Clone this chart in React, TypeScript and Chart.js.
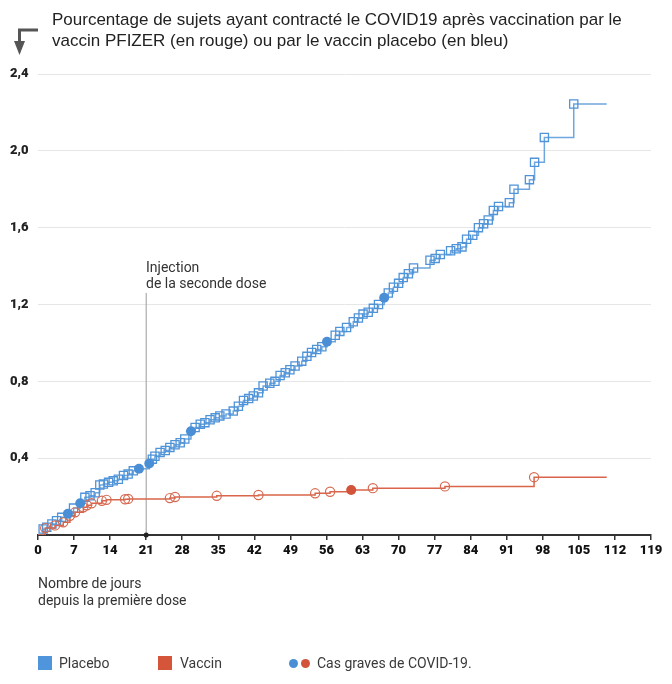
import React, { useEffect, useRef } from "react";
import { Chart, registerables } from "chart.js";

Chart.register(...registerables);

// ---- data ----
const xTicks = [0, 7, 14, 21, 28, 35, 42, 49, 56, 63, 70, 77, 84, 91, 98, 105, 112, 119];
const yTicks = [0, 0.4, 0.8, 1.2, 1.6, 2.0, 2.4];

const placeboDays = [
  1.0, 1.7, 2.7, 3.6, 4.6, 5.8, 6.9, 8.2, 9.1, 10.1, 11.1, 12.0, 12.7, 13.7, 14.6, 15.6, 16.6, 17.5,
  18.5, 19.6, 21.6, 22.2, 22.7, 23.7, 24.7, 25.6, 26.6, 27.6, 28.5, 29.7, 30.5, 31.5, 32.4, 33.4,
  34.4, 35.3, 36.5, 37.9, 38.9, 39.9, 40.9, 41.8, 42.8, 43.7, 45.0, 46.0, 47.0, 48.0, 48.9, 49.9,
  51.2, 52.2, 53.1, 54.1, 55.1, 56.1, 57.7, 58.6, 59.9, 61.2, 62.2, 63.1, 64.1, 65.1, 66.1, 67.2,
  68.0, 69.0, 70.0, 70.9, 71.9, 72.9, 76.1, 77.1, 78.1, 80.1, 81.2, 82.3, 83.2, 84.4, 85.5, 86.5,
  87.4, 88.4, 89.4, 91.5, 92.4, 95.4, 96.4, 98.3, 104.0,
];
const placeboPct = [
  0.031, 0.04, 0.057, 0.074, 0.092, 0.11, 0.14, 0.165, 0.196, 0.204, 0.22, 0.26, 0.265, 0.274, 0.282,
  0.29, 0.31, 0.317, 0.334, 0.345, 0.372, 0.395, 0.41, 0.43, 0.44, 0.456, 0.47, 0.48, 0.5, 0.54,
  0.56, 0.577, 0.585, 0.6, 0.61, 0.62, 0.63, 0.645, 0.67, 0.7, 0.71, 0.724, 0.74, 0.776, 0.79, 0.8,
  0.83, 0.845, 0.86, 0.88, 0.905, 0.93, 0.95, 0.966, 0.98, 1.006, 1.04, 1.06, 1.08, 1.11, 1.13,
  1.15, 1.16, 1.18, 1.2, 1.235, 1.26, 1.29, 1.31, 1.34, 1.36, 1.39, 1.43, 1.44, 1.46, 1.48, 1.49,
  1.5, 1.54, 1.56, 1.6, 1.62, 1.64, 1.69, 1.71, 1.73, 1.8, 1.85, 1.94, 2.07, 2.244,
];
const placeboSevereDays = [5.8, 8.2, 19.6, 21.6, 29.7, 56.1, 67.2];

const vaccinDays = [
  1.4, 3.3, 4.9, 6.2, 7.2, 8.8, 9.5, 10.4, 12.4, 13.3, 16.9, 17.5, 25.6, 26.6, 34.7, 42.8, 53.8,
  56.7, 60.8, 65.0, 79.0, 96.3,
];
const vaccinPct = [
  0.036, 0.05, 0.066, 0.1, 0.118, 0.144, 0.155, 0.165, 0.178, 0.183, 0.186, 0.188, 0.192, 0.198,
  0.204, 0.208, 0.217, 0.225, 0.234, 0.244, 0.253, 0.301,
];
const vaccinSevereDays = [60.8];

const followUpEndDay = 110.4;
const secondDoseDay = 21;
const secondDoseLineTop = 1.26;

// ---- styles ----
const BLUE_LINE = "#6ea6dd";
const BLUE_MARK = "#4f93d8";
const BLUE_FILL = "#4a8fd6";
const RED_LINE = "#d9654a";
const RED_MARK = "#d66a52";
const RED_FILL = "#d2533a";
const TEXT_FONT = "Roboto, 'Noto Sans', sans-serif";

function buildSeries(days: number[], pct: number[]) {
  const pts: { x: number; y: number }[] = [{ x: 0, y: 0 }];
  days.forEach((d, i) => pts.push({ x: d, y: pct[i] }));
  pts.push({ x: followUpEndDay, y: pct[pct.length - 1] });
  return pts;
}

function buildSevere(severe: number[], days: number[], pct: number[]) {
  return severe.map((d) => ({ x: d, y: pct[days.indexOf(d)] }));
}

function markerRadius(severe: number[], r: number) {
  return (ctx: any) => {
    const i = ctx.dataIndex;
    const n = ctx.dataset.data.length;
    if (i === 0 || i === n - 1) return 0;
    const p = ctx.dataset.data[i];
    return severe.includes(p.x) ? 0 : r;
  };
}

const secondDosePlugin = {
  id: "secondDose",
  beforeDatasetsDraw(chart: any) {
    const { ctx, scales } = chart;
    const x = scales.x.getPixelForValue(secondDoseDay);
    const top = scales.y.getPixelForValue(secondDoseLineTop);
    const bottom = scales.y.getPixelForValue(0);
    ctx.save();
    ctx.strokeStyle = "#9a9a9a";
    ctx.lineWidth = 1;
    ctx.beginPath();
    ctx.moveTo(x, top);
    ctx.lineTo(x, bottom);
    ctx.stroke();
    ctx.restore();
  },
  afterDraw(chart: any) {
    const { ctx, scales } = chart;
    const x = scales.x.getPixelForValue(secondDoseDay);
    const y = scales.y.getPixelForValue(0);
    ctx.save();
    ctx.fillStyle = "#222";
    ctx.beginPath();
    ctx.arc(x, y, 2.5, 0, Math.PI * 2);
    ctx.fill();
    ctx.restore();
  },
};

export default function App() {
  const canvasRef = useRef<HTMLCanvasElement | null>(null);

  useEffect(() => {
    const canvas = canvasRef.current;
    if (!canvas) return;
    const chart = new Chart(canvas, {
      type: "line",
      data: {
        datasets: [
          {
            label: "Cas graves placebo",
            data: buildSevere(placeboSevereDays, placeboDays, placeboPct),
            showLine: false,
            pointStyle: "circle",
            pointRadius: 5,
            pointBackgroundColor: BLUE_FILL,
            pointBorderColor: BLUE_FILL,
            pointBorderWidth: 0,
            order: 0,
          } as any,
          {
            label: "Cas graves vaccin",
            data: buildSevere(vaccinSevereDays, vaccinDays, vaccinPct),
            showLine: false,
            pointStyle: "circle",
            pointRadius: 5,
            pointBackgroundColor: RED_FILL,
            pointBorderColor: RED_FILL,
            pointBorderWidth: 0,
            order: 0,
          } as any,
          {
            label: "Vaccin",
            data: buildSeries(vaccinDays, vaccinPct),
            stepped: "before",
            borderColor: RED_LINE,
            borderWidth: 1.5,
            pointStyle: "circle",
            pointRadius: markerRadius(vaccinSevereDays, 4.6),
            pointBackgroundColor: "rgba(255,255,255,0)",
            pointBorderColor: RED_MARK,
            pointBorderWidth: 1.2,
            order: 1,
          } as any,
          {
            label: "Placebo",
            data: buildSeries(placeboDays, placeboPct),
            stepped: "before",
            borderColor: BLUE_LINE,
            borderWidth: 1.5,
            pointStyle: "rect",
            pointRadius: markerRadius(placeboSevereDays, 5.8),
            pointBackgroundColor: "rgba(255,255,255,0)",
            pointBorderColor: BLUE_MARK,
            pointBorderWidth: 1.3,
            order: 2,
          } as any,
        ],
      },
      options: {
        animation: false,
        responsive: false,
        events: [],
        layout: { padding: { left: 10, top: 74, right: 21, bottom: 119 } },
        plugins: {
          legend: { display: false },
          tooltip: { enabled: false },
          title: { display: false },
        },
        scales: {
          x: {
            type: "linear",
            min: 0,
            max: 119,
            afterBuildTicks: (scale: any) => {
              scale.ticks = xTicks.map((v) => ({ value: v }));
            },
            afterFit: (scale: any) => {
              scale.height = 30;
            },
            ticks: {
              autoSkip: false,
              maxRotation: 0,
              padding: 3,
              color: "#111",
              font: { family: TEXT_FONT, size: 13, weight: "900" },
              callback: (v: any) => String(v),
            },
            grid: {
              display: true,
              drawOnChartArea: false,
              drawTicks: true,
              tickLength: 5,
              color: "#333",
              lineWidth: 1.5,
            },
            border: { display: true, color: "#333", width: 2 },
          },
          y: {
            type: "linear",
            min: 0,
            max: 2.4,
            afterBuildTicks: (scale: any) => {
              scale.ticks = yTicks.map((v) => ({ value: v }));
            },
            afterFit: (scale: any) => {
              scale.width = 28;
            },
            ticks: {
              crossAlign: "far",
              padding: 0,
              color: "#222",
              font: { family: TEXT_FONT, size: 13, weight: "900" },
              callback: (v: any) => (Number(v) === 0 ? "" : Number(v).toFixed(1).replace(".", ",")),
            },
            grid: {
              drawTicks: false,
              lineWidth: 1,
              color: (ctx: any) => (ctx.tick && ctx.tick.value === 0 ? "rgba(0,0,0,0)" : "#e6e6e6"),
            },
            border: { display: false },
          },
        },
      } as any,
      plugins: [secondDosePlugin],
    });
    return () => chart.destroy();
  }, []);

  const textStyle: React.CSSProperties = {
    position: "absolute",
    fontFamily: TEXT_FONT,
    fontSize: 14,
    color: "#3a3a3a",
    whiteSpace: "nowrap",
  };

  return (
    <div
      style={{
        position: "absolute",
        left: 0,
        top: 0,
        width: 672,
        height: 684,
        background: "#fff",
        overflow: "hidden",
      }}
    >
      <canvas ref={canvasRef} width={672} height={684} style={{ position: "absolute", left: 0, top: 0, width: 672, height: 684 }} />

      <svg width={60} height={60} style={{ position: "absolute", left: 0, top: 0 }}>
        <path d="M38 30 H19.5 V43" stroke="#555" strokeWidth={3} fill="none" />
        <polygon points="14,41 25,41 19.5,55" fill="#555" />
      </svg>

      <div
        style={{
          position: "absolute",
          left: 52,
          top: 10,
          fontFamily: "'Liberation Sans', Arial, sans-serif",
          fontSize: 17,
          lineHeight: "20.5px",
          color: "#222",
          whiteSpace: "nowrap",
        }}
      >
        Pourcentage de sujets ayant contracté le COVID19 après vaccination par le
        <br />
        vaccin PFIZER (en rouge) ou par le vaccin placebo (en bleu)
      </div>

      <div style={{ ...textStyle, left: 146, top: 259, lineHeight: "16px", color: "#333" }}>
        Injection
        <br />
        de la seconde dose
      </div>

      <div style={{ ...textStyle, left: 38, top: 575, lineHeight: "16.5px", color: "#333" }}>
        Nombre de jours
        <br />
        depuis la première dose
      </div>

      <div style={{ position: "absolute", left: 38, top: 656, width: 14, height: 14, background: "#4e95dc" }} />
      <div style={{ ...textStyle, left: 59, top: 654, lineHeight: "18px" }}>Placebo</div>
      <div style={{ position: "absolute", left: 158, top: 656, width: 14, height: 14, background: "#d4553a" }} />
      <div style={{ ...textStyle, left: 180, top: 654, lineHeight: "18px" }}>Vaccin</div>
      <div style={{ position: "absolute", left: 288.5, top: 658.5, width: 9, height: 9, borderRadius: "50%", background: BLUE_FILL }} />
      <div style={{ position: "absolute", left: 300.5, top: 658.5, width: 9, height: 9, borderRadius: "50%", background: RED_FILL }} />
      <div style={{ ...textStyle, left: 317, top: 654, lineHeight: "18px" }}>Cas graves de COVID-19.</div>
    </div>
  );
}
